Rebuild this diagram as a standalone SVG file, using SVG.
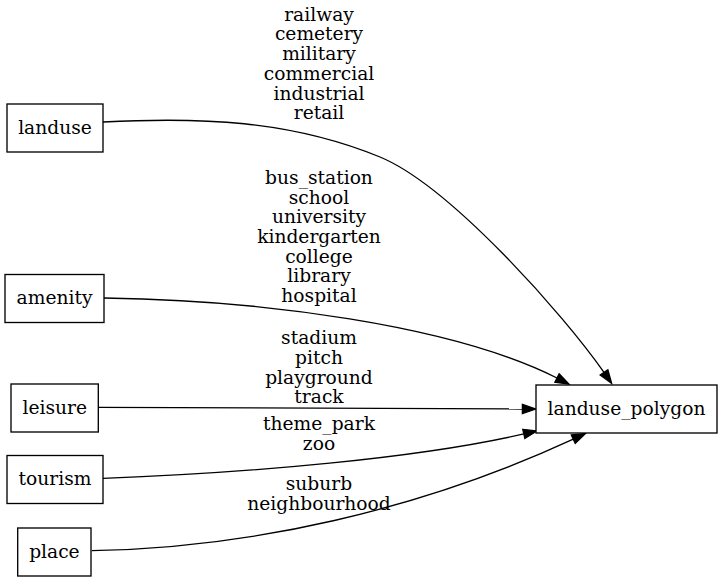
<svg xmlns="http://www.w3.org/2000/svg" width="723" height="581" viewBox="0 0 723 581">
<style>
text{font-family:"DejaVu Serif","Liberation Serif",serif;font-size:18.67px;fill:#000;text-anchor:middle}
.node rect{fill:#fff;stroke:#000;stroke-width:1.33}
.edges path{fill:none;stroke:#000;stroke-width:1.33;marker-end:url(#arr)}
</style>
<defs>
<marker id="arr" markerUnits="userSpaceOnUse" markerWidth="16" markerHeight="12" refX="0" refY="0" viewBox="0 -6 16 12" orient="auto" overflow="visible">
<path d="M0,-4.67L13.33,0L0,4.67Z" fill="#000" stroke="#000" stroke-width="1.33"/>
</marker>
</defs>
<rect width="723" height="581" fill="#fff"/>
<g class="edges" id="edges">
<path d="M103,122C200,117 290,120 380,157C450,186 564,315 604,372.4"/>
<path d="M104,298C260,300 452,325 557,378"/>
<path d="M98,407.3L522.4,409"/>
<path d="M103,478.3C250,473 420,458 523.8,433.9"/>
<path d="M91.7,550.7C250,548 420,510 573.3,439.2"/>
</g>
<g id="edge-labels">
<text x="319" y="20.5">railway</text>
<text x="319" y="40.2">cemetery</text>
<text x="319" y="60">military</text>
<text x="319" y="79.7">commercial</text>
<text x="319" y="99.5">industrial</text>
<text x="319" y="119.2">retail</text>
<text x="319" y="184">bus_station</text>
<text x="319" y="203.6">school</text>
<text x="319" y="223.2">university</text>
<text x="319" y="242.8">kindergarten</text>
<text x="319" y="262.5">college</text>
<text x="319" y="282.1">library</text>
<text x="319" y="301.7">hospital</text>
<text x="319" y="344">stadium</text>
<text x="319" y="363.7">pitch</text>
<text x="319" y="383.5">playground</text>
<text x="319" y="403.2">track</text>
<text x="319" y="430">theme_park</text>
<text x="319" y="450">zoo</text>
<text x="319" y="490">suburb</text>
<text x="319" y="510">neighbourhood</text>
</g>
<g class="node" id="landuse"><rect x="7" y="104" width="96" height="48"/><text x="55" y="134">landuse</text></g>
<g class="node" id="amenity"><rect x="5" y="274.5" width="99" height="48"/><text x="54.5" y="304.3">amenity</text></g>
<g class="node" id="leisure"><rect x="11" y="384" width="87.3" height="48"/><text x="54.7" y="414">leisure</text></g>
<g class="node" id="tourism"><rect x="7" y="455.5" width="96" height="48"/><text x="55" y="485.3">tourism</text></g>
<g class="node" id="place"><rect x="17.7" y="528" width="73.3" height="48"/><text x="54.4" y="558">place</text></g>
<g class="node" id="landuse_polygon"><rect x="536" y="385" width="181" height="48"/><text x="626.5" y="415">landuse_polygon</text></g>
</svg>
